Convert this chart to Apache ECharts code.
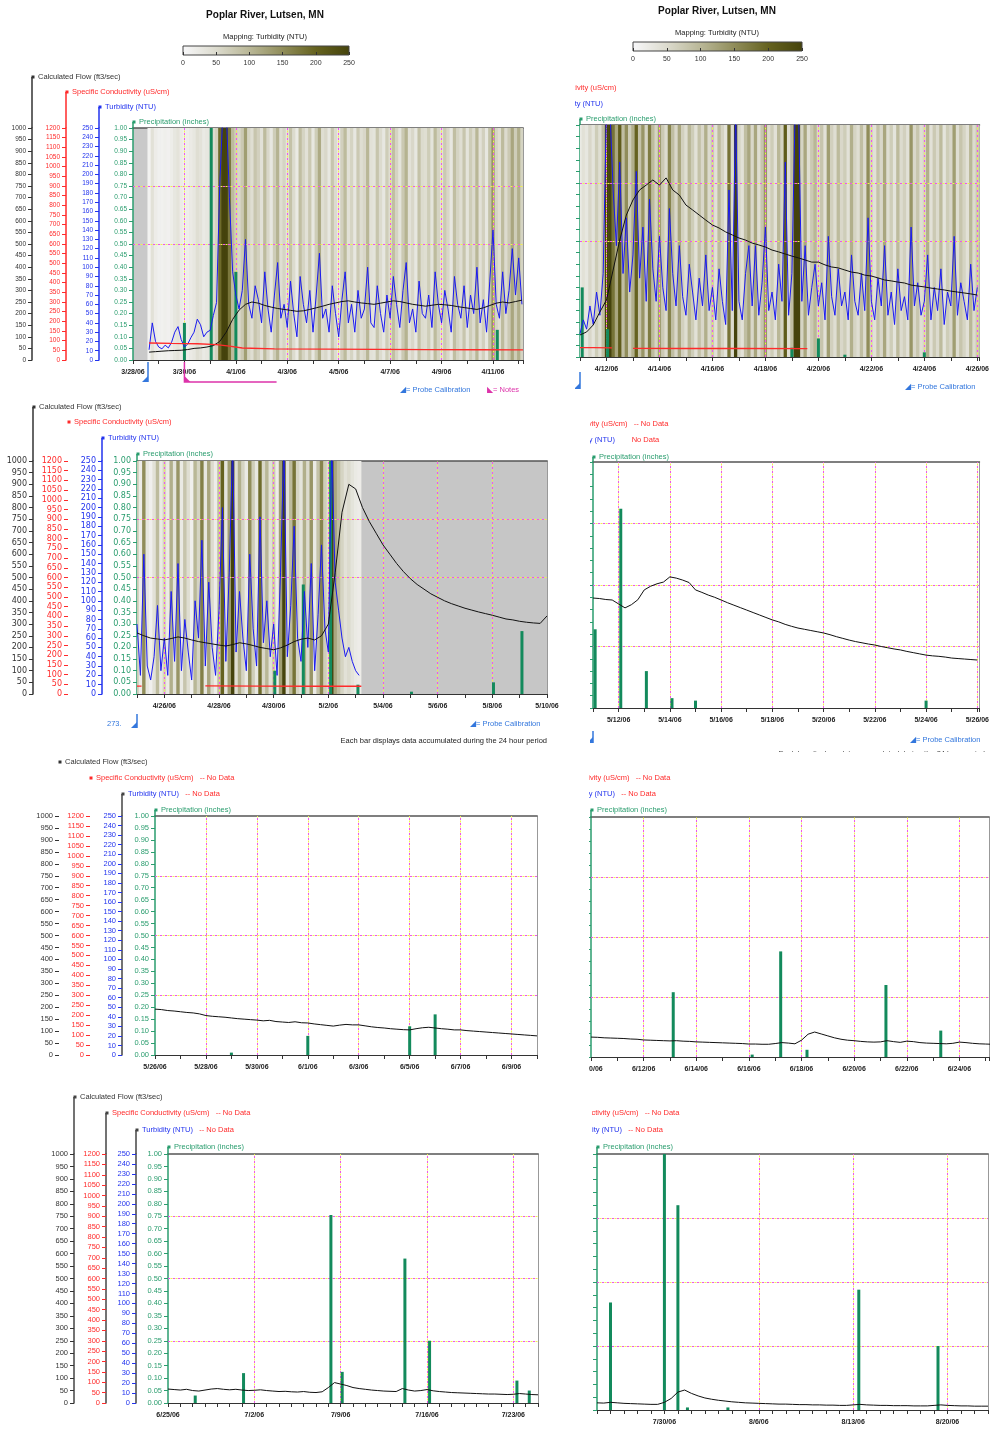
<!DOCTYPE html>
<html>
<head>
<meta charset="utf-8">
<title>Poplar River, Lutsen, MN</title>
<script src="https://cdn.jsdelivr.net/npm/echarts@6.0.0/dist/echarts.min.js"></script>
<style>
  html, body { margin: 0; padding: 0; background: #fff; }
  body { width: 992px; height: 1433px; position: relative; overflow: hidden; }
  .clip { position: absolute; overflow: hidden; }
  .chart { position: absolute; top: 0; }
</style>
</head>
<body>
<script>
// ---------------- data ----------------
const YEAR = 2006;

// Panel 1: 3/28/06 – 4/12/06
const p1Ticks = ['3/28/06', '3/30/06', '4/1/06', '4/3/06', '4/5/06', '4/7/06', '4/9/06', '4/11/06'];
const p1TurbStart = '3/28 15';               // 3-hourly turbidity (NTU)
const p1Turbidity = [
  11, 40, 20,
  14, 12, 16, 13, 19, 30, 36, 22,
  14, 17, 24, 30, 44, 38, 25, 30,
  32, 48, 62, 190, 270, 270, 175, 95,
  70, 55, 75, 130, 60, 45, 80, 65,
  40, 95, 55, 30, 70, 105, 45, 60,
  35, 85, 50, 25, 90, 60, 40, 75,
  30, 70, 115, 45, 55, 30, 80, 50,
  25, 65, 95, 40, 60, 30, 75, 45,
  55, 100, 40, 35, 80, 50, 30, 70,
  45, 90, 60, 35, 75, 105, 40, 55,
  30, 85, 50, 45, 70, 35, 95, 60,
  40, 75, 55, 30, 90, 60, 45, 80,
  35, 70, 50, 100, 40, 65, 30, 85,
  140, 60, 45, 95, 50, 75, 120, 70,
  110, 60
];
const p1FlowStart = '3/28 15';               // 6-hourly flow (ft3/sec)
const p1Flow = [
  34, 36, 38, 40, 41, 42, 45, 50, 52, 56, 62, 80, 120, 175,
  215, 240, 250, 245, 235, 228, 222, 218, 214, 210, 212, 218,
  225, 232, 240, 246, 252, 255, 250, 246, 243, 240, 245, 250,
  255, 252, 246, 240, 236, 232, 236, 240, 238, 235, 230, 226,
  222, 218, 225, 235, 245, 250, 246, 252, 258
];
const p1Conductivity = [
  ['3/28 15', 88], ['3/29 12', 86], ['3/30 12', 84], ['3/31 06', 80], ['3/31 18', 72],
  ['4/1 06', 62], ['4/2 12', 58], ['4/4 12', 56], ['4/6 12', 55], ['4/8 12', 54],
  ['4/10 12', 53], ['4/12 04', 52]
];
const p1Precip = [['3/30 00', 0.16], ['3/31 01', 1.05], ['4/1 00', 0.38], ['4/11 04', 0.13]];
const p1Probe = ['3/28 14'];
const p1Notes = [['3/30 00', '4/2 14']];

// Panel 2: 4/11/06 – 4/26/06
const p2Ticks = ['4/12/06', '4/14/06', '4/16/06', '4/18/06', '4/20/06', '4/22/06', '4/24/06', '4/26/06'];
const p2TurbStart = '4/11 00';
const p2Turbidity = [
  25, 40, 30, 55, 35, 70, 45, 90,
  270, 270, 180, 120, 210, 90, 150, 70,
  110, 200, 85, 140, 60, 170, 95, 60,
  130, 75, 50, 160, 90, 55, 120, 65,
  45, 100, 70, 40, 85, 55, 110, 50,
  75, 40, 95, 60, 35, 180, 50, 270,
  60, 40, 90, 120, 55, 120, 45, 80,
  140, 50, 70, 40, 100, 60, 210, 45,
  90, 270, 270, 60, 120, 45, 75, 100,
  55, 80, 40, 130, 65, 45, 95, 55,
  70, 40, 110, 60, 45, 90, 50, 150,
  60, 40, 85, 55, 120, 45, 70, 35,
  95, 50, 65, 40, 140, 55, 80, 45,
  60, 110, 40, 75, 50, 95, 35, 70,
  55, 130, 45, 80, 60, 40, 100, 50,
  75
];
const p2FlowStart = '4/11 00';
const p2Flow = [
  95, 108, 138, 194, 246, 375, 504, 612, 677, 720, 741, 763,
  741, 772, 720, 698, 655, 634, 612, 590, 569, 556, 539, 526,
  513, 504, 491, 483, 474, 461, 453, 444, 435, 427, 418, 409,
  409, 397, 388, 384, 375, 366, 362, 353, 349, 341, 332, 328,
  323, 319, 310, 306, 302, 297, 293, 289, 284, 280, 276, 272, 267
];
const p2Conductivity = [
  ['4/11 00', 48], ['4/11 12', 48], ['4/12 05', 47], ['4/12 06', null],
  ['4/13 00', 45], ['4/15 00', 44], ['4/17 00', 44], ['4/19 14', 43]
];
const p2Precip = [['4/11 02', 0.30], ['4/12 01', 0.12], ['4/19 00', 0.04], ['4/20 00', 0.08], ['4/21 00', 0.01], ['4/24 00', 0.02]];
const p2Probe = ['4/11 00'];

// Panel 3: 4/25/06 – 5/10/06
const p3Ticks = ['4/26/06', '4/28/06', '4/30/06', '5/2/06', '5/4/06', '5/6/06', '5/8/06', '5/10/06'];
const p3TurbStart = '4/25 00';
const p3Turbidity = [
  75, 20, 150, 30, 15, 40, 95, 25,
  60, 20, 110, 35, 140, 25, 80, 45,
  15, 100, 60, 165, 30, 120, 50, 20,
  90, 200, 35, 130, 270, 45, 110, 60,
  25, 150, 70, 30, 190, 55, 100, 40,
  75, 20, 130, 270, 40, 95, 180, 60,
  35, 110, 50, 140, 25, 85, 160, 70,
  45, 270, 120, 90, 60, 40, 50, 35,
  25, 20
];
const p3FlowStart = '4/25 00';
const p3Flow = [
  262, 250, 240, 236, 232, 238, 245, 240, 232, 225, 220, 215,
  210, 206, 212, 220, 215, 208, 200, 195, 190, 198, 210, 225,
  235, 240, 232, 250, 300, 520, 780, 900, 880, 800, 740, 690,
  640, 600, 560, 525, 495, 470, 450, 430, 415, 400, 388, 378,
  368, 360, 352, 345, 338, 330, 322, 318, 312, 308, 305, 303, 335
];
const p3Conductivity = [
  ['4/25 00', 41], ['4/25 04', 41], ['4/25 05', null],
  ['4/27 12', 42], ['4/29 12', 41], ['5/1 12', 40], ['5/3 05', 40]
];
const p3Precip = [['4/30 01', 0.10], ['5/1 02', 0.47], ['5/2 02', 1.05], ['5/3 02', 0.04], ['5/5 01', 0.01], ['5/8 01', 0.05], ['5/9 02', 0.27]];
const p3Probe = ['4/25 00'];

// Panel 4: 5/11/06 – 5/26/06
const p4Ticks = ['5/12/06', '5/14/06', '5/16/06', '5/18/06', '5/20/06', '5/22/06', '5/24/06', '5/26/06'];
const p4FlowStart = '5/11 00';
const p4Flow = [
  447, 445, 441, 439, 423, 407, 420, 440, 480, 495, 505, 512,
  533, 528, 520, 510, 480, 470, 459, 450, 439, 428, 418, 408,
  398, 388, 378, 368, 358, 350, 340, 332, 325, 320, 315, 310,
  305, 298, 290, 283, 276, 270, 265, 260, 256, 250, 245, 240,
  236, 230, 225, 220, 215, 212, 210, 207, 203, 201, 199, 197, 195
];
const p4Precip = [['5/11 02', 0.32], ['5/12 02', 0.81], ['5/13 02', 0.15], ['5/14 02', 0.04], ['5/15 00', 0.03], ['5/24 00', 0.03]];
const p4Probe = ['5/11 00'];

// Panel 5: 5/26/06 – 6/10/06
const p5Ticks = ['5/26/06', '5/28/06', '5/30/06', '6/1/06', '6/3/06', '6/5/06', '6/7/06', '6/9/06'];
const p5FlowStart = '5/26 00';
const p5Flow = [
  192, 190, 186, 184, 181, 178, 176, 172, 165, 162, 160, 158,
  155, 152, 150, 148, 146, 143, 145, 140, 138, 136, 139, 135,
  134, 130, 127, 124, 121, 125, 128, 126, 126, 122, 118, 115,
  113, 110, 108, 106, 105, 110, 114, 116, 113, 110, 108, 105,
  105, 102, 100, 98, 96, 94, 92, 90, 88, 86, 84, 82, 80
];
const p5Precip = [['5/29 00', 0.01], ['6/1 00', 0.08], ['6/5 00', 0.12], ['6/6 00', 0.17]];

// Panel 6: 6/10/06 – 6/25/06
const p6Ticks = ['6/10/06', '6/12/06', '6/14/06', '6/16/06', '6/18/06', '6/20/06', '6/22/06', '6/24/06'];
const p6FlowStart = '6/10 00';
const p6Flow = [
  83, 82, 80, 79, 78, 77, 75, 74, 71, 70, 69, 68,
  67, 68, 66, 65, 63, 62, 61, 60, 59, 58, 57, 56,
  54, 54, 53, 53, 56, 60, 58, 55, 70, 95, 104, 96,
  88, 80, 74, 70, 68, 65, 63, 62, 63, 68, 64, 61,
  66, 64, 60, 58, 57, 56, 55, 57, 62, 60, 57, 55, 54, 53
];
const p6Precip = [['6/13 03', 0.27], ['6/16 03', 0.01], ['6/17 05', 0.44], ['6/18 05', 0.03], ['6/21 05', 0.30], ['6/23 07', 0.11]];

// Panel 7: 6/25/06 – 7/25/06
const p7Ticks = ['6/25/06', '7/2/06', '7/9/06', '7/16/06', '7/23/06'];
const p7FlowStart = '6/25 00';               // 12-hourly
const p7Flow = [
  56, 54, 52, 55, 50, 48, 52, 56, 58, 55, 53, 55, 52, 50, 51, 53,
  50, 48, 46, 47, 45, 44, 46, 43, 42, 45, 62, 82, 76, 70, 62, 58,
  55, 52, 50, 48, 47, 46, 58, 52, 48, 50, 54, 49, 46, 44, 42, 41,
  40, 39, 38, 37, 36, 36, 35, 34, 35, 38, 36, 34, 33
];
const p7Precip = [['6/27 05', 0.03], ['7/1 03', 0.12], ['7/8 05', 0.755], ['7/9 03', 0.125], ['7/14 05', 0.58], ['7/16 05', 0.25], ['7/23 07', 0.09], ['7/24 07', 0.05]];

// Panel 8: 7/25/06 – 8/23/06
const p8Ticks = ['7/30/06', '8/6/06', '8/13/06', '8/20/06'];
const p8FlowStart = '7/25 00';               // 12-hourly
const p8Flow = [
  28, 27, 30, 28, 26, 25, 24, 23, 22, 22, 30, 45, 70, 78, 65, 55,
  47, 42, 38, 35, 32, 30, 28, 27, 26, 25, 24, 23, 23, 22, 21, 21,
  20, 20, 19, 19, 18, 18, 20, 22, 20, 19, 18, 18, 17, 17, 17, 16,
  16, 16, 18, 20, 18, 17, 16, 16, 15, 15, 15
];
const p8Precip = [['7/26 00', 0.42], ['7/30 00', 1.05], ['7/31 00', 0.80], ['7/31 17', 0.01], ['8/3 17', 0.01], ['8/13 10', 0.47], ['8/19 07', 0.25]];

// Turbidity colour ramp (NTU 0 → 250)
const turbRamp = ['#f8f8fa', '#dcdbce', '#b9b797', '#908d5a', '#65621f', '#45430c'];

// ---------------- helpers ----------------
const DAY = 864e5, HOUR = 36e5;
const FONT = "'Liberation Sans', Arial, sans-serif";
const C = { flow: '#333333', cond: '#ff2a2a', turb: '#2233ee', precip: '#2a9d6e', bar: '#138a5c', probe: '#3377dd', notes: '#dd33aa' };

function ts(s) {
  const [md, h] = s.split(' ');
  const [m, d] = md.split('/').map(Number);
  return Date.UTC(YEAR, m - 1, d, Number(h || 0));
}
function tickTime(lbl) {
  const [m, d] = lbl.split('/').map(Number);
  return Date.UTC(YEAR, m - 1, d);
}
function dateLabel(v) {
  const d = new Date(v);
  return (d.getUTCMonth() + 1) + '/' + d.getUTCDate() + '/06';
}
function isMidnight(v) { return Math.abs(v / DAY - Math.round(v / DAY)) < 1e-9; }
function regular(start, stepH, vals) {
  const t0 = ts(start);
  return vals.map((v, i) => [t0 + i * stepH * HOUR, v]);
}
function pairs(arr) { return arr.map(([s, v]) => [ts(s), v]); }

const axisDefs = [
  { name: 'Calculated Flow (ft3/sec)', color: C.flow, min: 0, max: 1000, interval: 50, fmt: v => String(v) },
  { name: 'Specific Conductivity (uS/cm)', color: C.cond, min: 0, max: 1200, interval: 50, fmt: v => String(v) },
  { name: 'Turbidity (NTU)', color: C.turb, min: 0, max: 250, interval: 10, fmt: v => String(v) },
  { name: 'Precipitation (inches)', color: C.precip, min: 0, max: 1, interval: 0.05, fmt: v => v.toFixed(2) }
];

function text(x, y, str, color, opts = {}) {
  return {
    type: 'text', silent: true, z: 50,
    style: {
      x, y, text: str, fill: color,
      font: (opts.weight || 'normal') + ' ' + (opts.size || 7.5) + 'px ' + FONT,
      textAlign: opts.align || 'left', align: opts.align || 'left',
      textVerticalAlign: 'middle', verticalAlign: 'middle'
    }
  };
}

function buildPanel(c) {
  const wrap = document.createElement('div');
  wrap.className = 'clip';
  wrap.style.cssText = `left:${c.clip}px;top:${c.top}px;width:${992 - c.clip}px;height:${c.height}px;`;
  const el = document.createElement('div');
  el.className = 'chart';
  el.style.cssText = `left:${c.originX - c.clip}px;top:0;width:${992 - c.originX}px;height:${c.height}px;`;
  wrap.appendChild(el);
  document.body.appendChild(wrap);

  const X = x => x - c.originX, Y = y => y - c.top;
  const P = c.plot;
  const gl = X(P.left), gt = Y(P.top);
  const xmin = ts(c.xmin), xmax = ts(c.xmax);
  const tickSet = new Set(c.ticks);
  const tickTimes = c.ticks.map(tickTime).filter(t => t > xmin && t < xmax);
  const tf = c.tickFont;

  const grids = [
    { left: gl, top: gt, width: P.width, height: P.height, show: true, backgroundColor: c.bg, borderWidth: 0 },
    { left: gl, top: Y(c.marker ? c.marker.top : P.top + P.height + 20), width: P.width,
      height: c.marker ? c.marker.height : 10, show: false }
  ];
  const xAxes = [
    { gridIndex: 0, type: 'value', min: xmin, max: xmax, interval: DAY, position: 'bottom',
      axisLine: { onZero: false, lineStyle: { color: '#333', width: 1 } },
      axisTick: { length: 4, lineStyle: { color: '#333' } },
      axisLabel: { margin: 9, color: '#222', fontSize: 7, fontWeight: 'bold', fontFamily: FONT,
        formatter: v => { const s = dateLabel(v); return (isMidnight(v) && tickSet.has(s)) ? s : ''; } },
      splitLine: { show: false } },
    { gridIndex: 0, type: 'value', min: xmin, max: xmax, position: 'top',
      axisLine: { onZero: false, lineStyle: { color: '#555', width: 1.5 } },
      axisTick: { show: false }, axisLabel: { show: false }, splitLine: { show: false } },
    { gridIndex: 1, type: 'value', min: xmin, max: xmax, show: false }
  ];
  const noData = [null, c.noData ? c.noData.cond : null, c.noData ? c.noData.turb : null, null];
  const yAxes = axisDefs.map((d, k) => ({
    gridIndex: 0, type: 'value', position: 'left', offset: c.offsets[k],
    min: d.min, max: d.max, interval: d.interval,
    name: noData[k] ? `{a|${d.name}}{b|${noData[k]}}` : `{a|${d.name}}`,
    nameLocation: 'end', nameGap: P.top - c.nameY[k],
    nameTextStyle: { align: 'left', verticalAlign: 'middle', padding: [0, 0, 0, 6],
      rich: { a: { color: d.color, fontSize: 7.5, fontFamily: FONT }, b: { color: C.cond, fontSize: 7.5, fontFamily: FONT } } },
    axisLine: { show: !!c.lines[k], onZero: false, lineStyle: { color: c.lines[k] || d.color, width: 1.5 } },
    axisTick: { show: true, length: 4, lineStyle: { color: d.color } },
    axisLabel: { color: d.color, fontSize: tf.size, fontFamily: tf.family, margin: 6, formatter: d.fmt },
    splitLine: { show: false }
  }));
  yAxes.push({ gridIndex: 0, type: 'value', position: 'right', min: 0, max: 1,
    axisLine: { show: true, onZero: false, lineStyle: { color: '#999', width: 1 } },
    axisTick: { show: false }, axisLabel: { show: false }, splitLine: { show: false } });
  yAxes.push({ gridIndex: 1, type: 'value', min: 0, max: 1, show: false });

  const graphic = [];
  if (c.header) {
    const h = c.header;
    grids.push({ left: X(h.bar[0]), top: Y(h.bar[1]), width: h.bar[2], height: h.bar[3], show: false });
    xAxes.push({ gridIndex: 2, type: 'value', min: 0, max: 250, interval: 50, z: 10,
      axisLine: { show: false }, axisTick: { inside: true, length: 3, lineStyle: { color: '#333' } },
      axisLabel: { fontSize: 7, color: '#333', fontFamily: FONT, margin: 5 }, splitLine: { show: false } });
    yAxes.push({ gridIndex: 2, type: 'value', min: 0, max: 1, show: false });
    graphic.push(text(X(h.cx), Y(h.titleY), 'Poplar River, Lutsen, MN', '#111', { align: 'center', size: 10, weight: 'bold' }));
    graphic.push(text(X(h.cx), Y(h.mapY), 'Mapping: Turbidity (NTU)', '#222', { align: 'center', size: 7.5 }));
    graphic.push({ type: 'rect', silent: true, z: 1,
      shape: { x: X(h.bar[0]), y: Y(h.bar[1]), width: h.bar[2], height: h.bar[3] },
      style: { fill: new echarts.graphic.LinearGradient(0, 0, 1, 0,
        turbRamp.map((col, i) => ({ offset: i / (turbRamp.length - 1), color: col }))), stroke: '#444', lineWidth: 1 } });
  }

  // axis stems reaching up to each axis title
  axisDefs.forEach((d, k) => {
    const ax = X(P.left - c.offsets[k]);
    if (c.lines[k]) {
      graphic.push({ type: 'line', silent: true, z: 5,
        shape: { x1: ax, y1: Y(c.nameY[k]), x2: ax, y2: gt }, style: { stroke: c.lines[k], lineWidth: 1.5 } });
    }
    graphic.push({ type: 'rect', silent: true, z: 5,
      shape: { x: ax - 0.5, y: Y(c.nameY[k]) - 1.5, width: 3, height: 3 }, style: { fill: c.lines[k] || d.color } });
  });
  (c.texts || []).forEach(t => graphic.push(text(X(t.x), Y(t.y), t.text, t.color, t)));

  // series
  const series = [];
  const visualMap = [];
  const turb = c.turbidity ? regular(c.turbidity.start, 3, c.turbidity.values) : null;
  if (turb && c.stripes) {
    const half = 1.5 * HOUR;
    series.push({
      type: 'custom', xAxisIndex: 0, yAxisIndex: 3, clip: true, z: 1, silent: true, data: turb,
      renderItem(params, api) {
        const t = api.value(0);
        const a = api.coord([t - half, 0]), b = api.coord([t + half, 0]);
        const cs = params.coordSys;
        return { type: 'rect', shape: { x: a[0], y: cs.y, width: b[0] - a[0] + 0.6, height: cs.height },
          style: { fill: api.visual('color') } };
      }
    });
    visualMap.push({ type: 'continuous', show: false, seriesIndex: 0, dimension: 1, min: 0, max: 250,
      inRange: { color: turbRamp }, outOfRange: { color: turbRamp[turbRamp.length - 1] } });
  }
  const precip = pairs(c.precip);
  const gridLines = [...tickTimes.map(t => ({ xAxis: t })), ...c.hLines.map(v => ({ yAxis: v }))];
  series.push({
    type: 'bar', xAxisIndex: 0, yAxisIndex: 3, data: precip, barWidth: 3, z: 4, silent: true,
    itemStyle: { color: C.bar },
    markLine: { silent: true, symbol: ['none', 'none'], z: 3, label: { show: false },
      lineStyle: { color: '#ee55ee', type: [2, 3], width: 1 }, data: gridLines }
  });
  series.push({
    type: 'line', xAxisIndex: 0, yAxisIndex: 3, data: precip, symbol: 'none', silent: true, z: 3,
    lineStyle: { opacity: 0 },
    markLine: { silent: true, symbol: ['none', 'none'], z: 3, label: { show: false },
      lineStyle: { color: '#f2ee50', type: [2, 3], dashOffset: 2.5, width: 1 }, data: gridLines }
  });
  if (turb) {
    series.push({ type: 'line', xAxisIndex: 0, yAxisIndex: 2, data: turb, symbol: 'none', silent: true, z: 6,
      lineStyle: { color: '#1a1af0', width: 1 } });
  }
  series.push({ type: 'line', xAxisIndex: 0, yAxisIndex: 0, data: regular(c.flow.start, c.flow.step, c.flow.values),
    symbol: 'none', silent: true, z: 7, lineStyle: { color: '#111', width: 1 } });
  if (c.cond) {
    series.push({ type: 'line', xAxisIndex: 0, yAxisIndex: 1, data: pairs(c.cond), symbol: 'none', silent: true,
      z: 7, connectNulls: false, lineStyle: { color: C.cond, width: 1.3 } });
  }
  const marks = [];
  (c.probes || []).forEach(s => marks.push([ts(s), 0.5, 0, ts(s)]));
  (c.notes || []).forEach(([s, e]) => marks.push([ts(s), 0.5, 1, ts(e)]));
  if (marks.length) {
    series.push({
      type: 'custom', xAxisIndex: 2, yAxisIndex: 5, clip: false, silent: true, z: 8, data: marks,
      renderItem(params, api) {
        const cs = params.coordSys;
        const x = api.coord([api.value(0), 0.5])[0];
        const y0 = cs.y, y1 = cs.y + cs.height;
        if (api.value(2) === 0) {
          return { type: 'group', children: [
            { type: 'line', shape: { x1: x, y1: y0, x2: x, y2: y1 }, style: { stroke: C.probe, lineWidth: 1.5 } },
            { type: 'polygon', shape: { points: [[x, y1 - 6], [x, y1], [x - 6, y1]] }, style: { fill: C.probe } }
          ] };
        }
        const x2 = api.coord([api.value(3), 0.5])[0];
        return { type: 'group', children: [
          { type: 'polyline', shape: { points: [[x, y0], [x, y1], [x2, y1]] }, style: { stroke: C.notes, lineWidth: 1.5, fill: null } },
          { type: 'polygon', shape: { points: [[x, y1 - 6], [x, y1], [x + 6, y1]] }, style: { fill: C.notes } }
        ] };
      }
    });
  }

  const chart = echarts.init(el, null, { renderer: 'canvas' });
  chart.setOption({
    animation: false,
    textStyle: { fontFamily: FONT },
    grid: grids, xAxis: xAxes, yAxis: yAxes,
    visualMap, series, graphic
  });
}

// ---------------- panels ----------------
buildPanel({
  top: 0, height: 400, clip: 0, originX: 0,
  plot: { left: 133, top: 128, width: 390, height: 232 },
  offsets: [101, 67, 34, 0], nameY: [77, 92, 107, 122],
  lines: [C.flow, C.cond, C.turb, C.precip], tickFont: { size: 6.5, family: FONT },
  xmin: '3/28 00', xmax: '4/12 04', ticks: p1Ticks, stripes: true, bg: '#c9c9c9', hLines: [0.5, 0.75],
  header: { cx: 265, titleY: 15, mapY: 37, bar: [183, 46, 166, 9] },
  turbidity: { start: p1TurbStart, values: p1Turbidity },
  flow: { start: p1FlowStart, step: 6, values: p1Flow },
  cond: p1Conductivity, precip: p1Precip,
  marker: { top: 362, height: 20 }, probes: p1Probe, notes: p1Notes,
  texts: [
    { x: 400, y: 390, text: '◢= Probe Calibration', color: C.probe },
    { x: 487, y: 390, text: '◣= Notes', color: C.notes }
  ]
});

buildPanel({
  top: 0, height: 400, clip: 575, originX: 580 - 145,
  plot: { left: 580, top: 125, width: 405, height: 232 },
  offsets: [101, 67, 34, 0], nameY: [73, 88, 104, 119],
  lines: [C.flow, C.cond, C.turb, C.precip], tickFont: { size: 6.5, family: FONT },
  xmin: '4/11 00', xmax: '4/26 02', ticks: p2Ticks, stripes: true, bg: '#c9c9c9', hLines: [0.5, 0.75],
  header: { cx: 717, titleY: 11, mapY: 33, bar: [633, 42, 169, 9] },
  turbidity: { start: p2TurbStart, values: p2Turbidity },
  flow: { start: p2FlowStart, step: 6, values: p2Flow },
  cond: p2Conductivity, precip: p2Precip,
  marker: { top: 372, height: 17 }, probes: p2Probe,
  texts: [{ x: 905, y: 387, text: '◢= Probe Calibration', color: C.probe }]
});

buildPanel({
  top: 400, height: 350, clip: 0, originX: 0,
  plot: { left: 137, top: 461, width: 410, height: 233 },
  offsets: [104, 69, 35, 0], nameY: [407, 422, 438, 454],
  lines: [C.flow, null, C.turb, C.precip], tickFont: { size: 8, family: "'DejaVu Sans', sans-serif" },
  xmin: '4/25 00', xmax: '5/10 00', ticks: p3Ticks, stripes: true, bg: '#c6c6c6', hLines: [0.5, 0.75],
  turbidity: { start: p3TurbStart, values: p3Turbidity },
  flow: { start: p3FlowStart, step: 6, values: p3Flow },
  cond: p3Conductivity, precip: p3Precip,
  marker: { top: 714, height: 14 }, probes: p3Probe,
  texts: [
    { x: 107, y: 724, text: '273.', color: C.probe },
    { x: 470, y: 724, text: '◢= Probe Calibration', color: C.probe },
    { x: 547, y: 741, text: 'Each bar displays data accumulated during the 24 hour period', color: '#222', align: 'right' }
  ]
});

buildPanel({
  top: 400, height: 352, clip: 590, originX: 593 - 145,
  plot: { left: 593, top: 462, width: 392, height: 246 },
  offsets: [104, 69, 35, 0], nameY: [407, 424, 440, 457],
  lines: [C.flow, null, C.turb, C.precip], tickFont: { size: 8, family: "'DejaVu Sans', sans-serif" },
  xmin: '5/11 00', xmax: '5/26 02', ticks: p4Ticks, stripes: false, bg: '#ffffff', hLines: [0.25, 0.5, 0.75],
  noData: { cond: '   -- No Data', turb: '        No Data' },
  flow: { start: p4FlowStart, step: 6, values: p4Flow },
  precip: p4Precip,
  marker: { top: 731, height: 12 }, probes: p4Probe,
  texts: [
    { x: 910, y: 740, text: '◢= Probe Calibration', color: C.probe },
    { x: 985, y: 754, text: 'Each bar displays data accumulated during the 24 hour period', color: '#444', align: 'right' }
  ]
});

buildPanel({
  top: 750, height: 335, clip: 0, originX: 0,
  plot: { left: 155, top: 816, width: 382, height: 239 },
  offsets: [96, 65, 33, 0], nameY: [762, 778, 794, 810],
  lines: [null, null, '#444', C.precip], tickFont: { size: 7.5, family: FONT },
  xmin: '5/26 00', xmax: '6/10 00', ticks: p5Ticks, stripes: false, bg: '#ffffff', hLines: [0.25, 0.5, 0.75],
  noData: { cond: '   -- No Data', turb: '   -- No Data' },
  flow: { start: p5FlowStart, step: 6, values: p5Flow },
  precip: p5Precip
});

buildPanel({
  top: 750, height: 335, clip: 589, originX: 591 - 145,
  plot: { left: 591, top: 817, width: 398, height: 240 },
  offsets: [96, 65, 33, 0], nameY: [762, 778, 794, 810],
  lines: [null, null, '#444', C.precip], tickFont: { size: 7.5, family: FONT },
  xmin: '6/10 00', xmax: '6/25 03', ticks: p6Ticks, stripes: false, bg: '#ffffff', hLines: [0.25, 0.5, 0.75],
  noData: { cond: '   -- No Data', turb: '   -- No Data' },
  flow: { start: p6FlowStart, step: 6, values: p6Flow },
  precip: p6Precip
});

buildPanel({
  top: 1085, height: 348, clip: 0, originX: 0,
  plot: { left: 168, top: 1154, width: 370, height: 249 },
  offsets: [94, 62, 32, 0], nameY: [1097, 1113, 1130, 1147],
  lines: ['#444', '#444', '#444', C.precip], tickFont: { size: 7.5, family: FONT },
  xmin: '6/25 00', xmax: '7/25 00', ticks: p7Ticks, stripes: false, bg: '#ffffff', hLines: [0.25, 0.5, 0.75],
  noData: { cond: '   -- No Data', turb: '   -- No Data' },
  flow: { start: p7FlowStart, step: 12, values: p7Flow },
  precip: p7Precip
});

buildPanel({
  top: 1085, height: 348, clip: 592, originX: 597 - 145,
  plot: { left: 597, top: 1154, width: 391, height: 256 },
  offsets: [94, 62, 32, 0], nameY: [1097, 1113, 1130, 1147],
  lines: ['#444', '#444', '#444', C.precip], tickFont: { size: 7.5, family: FONT },
  xmin: '7/25 00', xmax: '8/23 00', ticks: p8Ticks, stripes: false, bg: '#ffffff', hLines: [0.25, 0.5, 0.75],
  noData: { cond: '   -- No Data', turb: '   -- No Data' },
  flow: { start: p8FlowStart, step: 12, values: p8Flow },
  precip: p8Precip
});
</script>
</body>
</html>
